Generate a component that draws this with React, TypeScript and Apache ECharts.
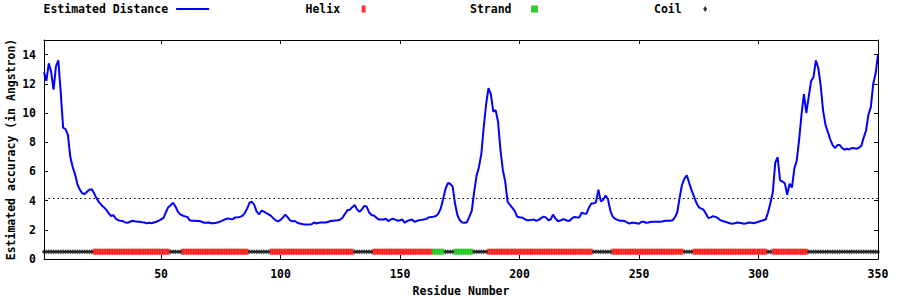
import React, { useEffect, useRef } from "react";
import * as echarts from "echarts";

// Estimated distance per residue (residues 1..350)
const distance: number[] = [
  12.8, 12.2, 13.4, 12.8, 11.6, 13.2, 13.6, 11.4, 9.0, 8.9,
  8.5, 7.0, 6.3, 5.8, 5.1, 4.75, 4.5, 4.45, 4.6, 4.75,
  4.78, 4.5, 4.15, 3.9, 3.7, 3.55, 3.38, 3.15, 2.95, 3.0,
  2.78, 2.65, 2.62, 2.6, 2.5, 2.48, 2.55, 2.62, 2.58, 2.55,
  2.55, 2.52, 2.5, 2.45, 2.48, 2.45, 2.5, 2.55, 2.62, 2.72,
  2.82, 3.2, 3.55, 3.68, 3.85, 3.6, 3.24, 3.06, 2.98, 2.92,
  2.88, 2.65, 2.62, 2.62, 2.6, 2.6, 2.55, 2.48, 2.48, 2.5,
  2.45, 2.45, 2.48, 2.52, 2.58, 2.66, 2.72, 2.78, 2.74, 2.72,
  2.85, 2.86, 2.88, 2.95, 3.15, 3.45, 3.85, 3.92, 3.7, 3.24,
  3.05, 3.3, 3.25, 3.15, 3.06, 2.95, 2.78, 2.65, 2.58, 2.68,
  2.85, 3.04, 2.85, 2.65, 2.58, 2.6, 2.48, 2.43, 2.4, 2.37,
  2.37, 2.37, 2.38, 2.5, 2.43, 2.48, 2.5, 2.5, 2.5, 2.55,
  2.6, 2.62, 2.64, 2.66, 2.7, 2.85, 3.1, 3.35, 3.38, 3.55,
  3.7, 3.4, 3.24, 3.4, 3.63, 3.6, 3.2, 3.02, 2.98, 2.85,
  2.7, 2.7, 2.7, 2.76, 2.6, 2.7, 2.76, 2.7, 2.62, 2.66,
  2.7, 2.48, 2.6, 2.66, 2.7, 2.55, 2.6, 2.66, 2.68, 2.7,
  2.75, 2.85, 2.88, 2.9, 2.95, 3.1, 3.45, 4.1, 4.8, 5.2,
  5.15, 4.95, 3.8, 3.0, 2.65, 2.5, 2.48, 2.52, 2.9, 3.3,
  4.6, 5.7, 6.29, 7.2, 9.0, 10.6, 11.7, 11.3, 10.1, 10.2,
  9.4, 7.5, 6.1, 5.3, 3.92, 3.7, 3.5, 3.28, 2.9, 2.86,
  2.85, 2.75, 2.66, 2.66, 2.68, 2.7, 2.62, 2.68, 2.8, 2.9,
  2.85, 2.66, 2.7, 3.04, 2.78, 2.6, 2.62, 2.72, 2.7, 2.62,
  2.62, 2.8, 2.88, 2.85, 2.85, 3.17, 3.12, 3.1, 3.5, 3.81,
  3.8, 3.9, 4.75, 3.95, 4.05, 4.35, 4.1, 3.3, 2.9, 2.75,
  2.68, 2.62, 2.62, 2.6, 2.5, 2.42, 2.48, 2.48, 2.45, 2.42,
  2.55, 2.55, 2.48, 2.5, 2.55, 2.55, 2.55, 2.55, 2.55, 2.58,
  2.62, 2.62, 2.62, 2.65, 2.85, 3.2, 4.2, 5.1, 5.5, 5.74,
  5.2, 4.7, 4.27, 3.85, 3.55, 3.45, 3.38, 3.1, 2.8, 2.85,
  2.94, 2.88, 2.8, 2.66, 2.6, 2.55, 2.5, 2.45, 2.42, 2.45,
  2.5, 2.48, 2.45, 2.42, 2.45, 2.5, 2.48, 2.45, 2.5, 2.55,
  2.6, 2.66, 2.7, 3.2, 3.85, 4.6, 6.6, 6.98, 5.4, 5.3,
  5.2, 4.4, 5.15, 4.9, 6.2, 6.75, 8.17, 9.9, 11.3, 10.0,
  11.1, 12.2, 12.45, 13.6, 13.1, 11.9, 10.2, 9.2, 8.7, 8.2,
  7.8, 7.6, 7.8, 7.8, 7.6, 7.48, 7.55, 7.5, 7.6, 7.58,
  7.55, 7.62, 7.75, 8.3, 8.8, 9.9, 10.4, 12.0, 12.7, 14.0,
];

const residues: number[] = distance.map((_, i) => i + 1);

// Secondary structure segments [start, end] (inclusive residue numbers)
const helixSegments: [number, number][] = [
  [22, 53], [59, 86], [96, 130], [139, 163], [187, 230], [239, 268], [273, 303], [306, 320],
];
const strandSegments: [number, number][] = [
  [164, 168], [173, 180],
];

const thresholdValue = 4.15;
const ssBaseline = 0.5;

const xTickValues = [50, 100, 150, 200, 250, 300, 350];
const yTickValues = [0, 2, 4, 6, 8, 10, 12, 14];

const seriesNames = ["Estimated Distance", "Helix", "Strand", "Coil"];

const FONT = "'DejaVu Sans Mono', 'Liberation Mono', monospace";

function inSegments(r: number, segs: [number, number][]) {
  return segs.some(([a, b]) => r >= a && r <= b);
}

export default function App() {
  const ref = useRef<HTMLDivElement>(null);

  useEffect(() => {
    if (!ref.current) return;
    const chart = echarts.init(ref.current, undefined, { renderer: "svg" });

    const lineData = residues.map((r, i) => [r, distance[i]]);
    const helixData = residues.filter((r) => inSegments(r, helixSegments)).map((r) => [r, ssBaseline]);
    const strandData = residues.filter((r) => inSegments(r, strandSegments)).map((r) => [r, ssBaseline]);
    const coilData = residues
      .filter((r) => !inSegments(r, helixSegments) && !inSegments(r, strandSegments))
      .map((r) => [r, ssBaseline]);

    const textBase = { fontFamily: FONT, fontWeight: "bold" as const, fontSize: 11.5, color: "#000" };

    const mkLegend = (name: string, icon: string, left: number, padRight: number, w: number, h: number) => ({
      show: true,
      data: [{ name, icon }],
      left,
      top: 3,
      padding: 0,
      align: "right",
      itemWidth: w,
      itemHeight: h,
      selectedMode: false,
      textStyle: { ...textBase, padding: [0, padRight, 0, 0] },
    });

    chart.setOption({
      animation: false,
      backgroundColor: "#fff",
      textStyle: { fontFamily: FONT },
      legend: [
        mkLegend(seriesNames[0], "rect", 43.5, 3, 33, 2),
        mkLegend(seriesNames[1], "rect", 305.5, 16.5, 4, 7),
        mkLegend(seriesNames[2], "rect", 470, 14.5, 7, 7),
        mkLegend(seriesNames[3], "diamond", 654, 16.5, 4, 6),
      ],
      grid: { left: 44, right: 22, top: 40, bottom: 41, containLabel: false, outerBoundsMode: "none" },
      xAxis: [
        {
          type: "value",
          min: 1,
          max: 350,
          name: "Residue Number",
          nameLocation: "middle",
          nameGap: 26,
          nameMoveOverlap: false,
          nameTextStyle: textBase,
          axisLine: { show: true, onZero: false, lineStyle: { color: "#000", width: 1 } },
          axisTick: { show: true, inside: true, length: 4, customValues: xTickValues, lineStyle: { color: "#000" } },
          axisLabel: { show: true, customValues: xTickValues, margin: 9, ...textBase },
          splitLine: { show: false },
        },
        {
          type: "value",
          position: "top",
          min: 1,
          max: 350,
          axisLine: { show: true, onZero: false, lineStyle: { color: "#000", width: 1 } },
          axisTick: { show: true, inside: true, length: 4, customValues: xTickValues, lineStyle: { color: "#000" } },
          axisLabel: { show: false },
          splitLine: { show: false },
        },
      ],
      yAxis: [
        {
          type: "value",
          min: 0,
          max: 15,
          name: "Estimated accuracy (in Angstron)",
          nameLocation: "middle",
          nameGap: 27,
          nameMoveOverlap: false,
          nameTextStyle: textBase,
          axisLine: { show: true, onZero: false, lineStyle: { color: "#000", width: 1 } },
          axisTick: { show: true, inside: true, length: 4, customValues: yTickValues, lineStyle: { color: "#000" } },
          axisLabel: { show: true, customValues: yTickValues, margin: 8, ...textBase },
          splitLine: { show: false },
        },
        {
          type: "value",
          position: "right",
          min: 0,
          max: 15,
          axisLine: { show: true, onZero: false, lineStyle: { color: "#000", width: 1 } },
          axisTick: { show: true, inside: true, length: 4, customValues: yTickValues, lineStyle: { color: "#000" } },
          axisLabel: { show: false },
          splitLine: { show: false },
        },
      ],
      series: [
        {
          name: seriesNames[0],
          type: "line",
          data: lineData,
          symbol: "none",
          showSymbol: false,
          color: "#0000ff",
          lineStyle: { color: "#0000ff", width: 2 },
          z: 3,
          markLine: {
            silent: true,
            symbol: "none",
            label: { show: false },
            lineStyle: { color: "#000", width: 1, type: [1.5, 3] },
            data: [{ yAxis: thresholdValue }],
          },
        },
        {
          name: seriesNames[1],
          type: "scatter",
          data: helixData,
          symbol: "rect",
          symbolSize: [3, 6],
          color: "#ff0000",
          itemStyle: { color: "#ff0000" },
          z: 4,
        },
        {
          name: seriesNames[2],
          type: "scatter",
          data: strandData,
          symbol: "rect",
          symbolSize: [3, 6],
          color: "#00c000",
          itemStyle: { color: "#00c000" },
          z: 4,
        },
        {
          name: seriesNames[3],
          type: "scatter",
          data: coilData,
          symbol: "diamond",
          symbolSize: [4, 5],
          color: "#000000",
          itemStyle: { color: "#000000" },
          z: 4,
        },
      ],
    });

    return () => {
      chart.dispose();
    };
  }, []);

  return (
    <div
      ref={ref}
      style={{ position: "fixed", left: 0, top: 0, width: 900, height: 300, background: "#fff" }}
    />
  );
}
